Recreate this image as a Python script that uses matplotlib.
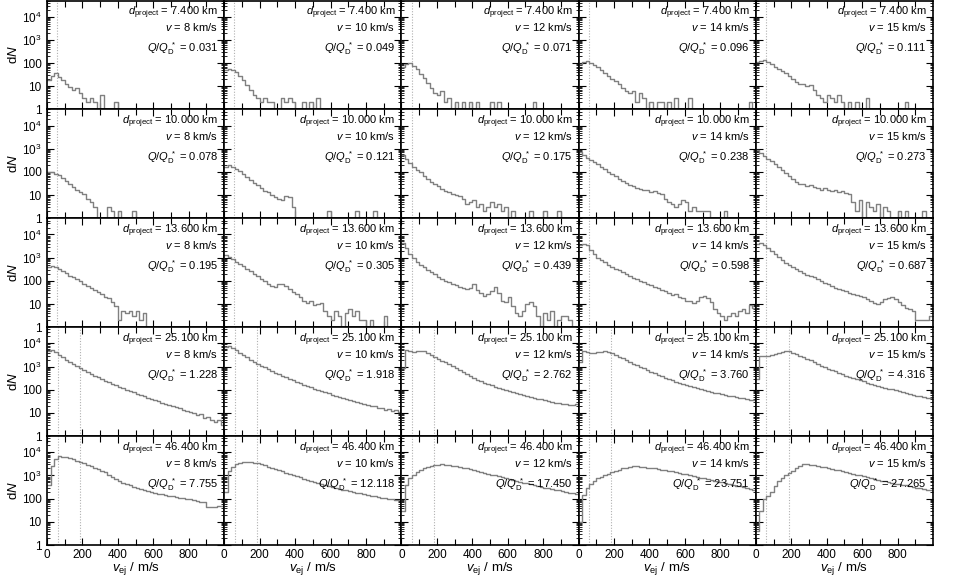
import numpy as np
import matplotlib
matplotlib.use('Agg')
import matplotlib.pyplot as plt
from matplotlib.ticker import FixedLocator, FixedFormatter, NullFormatter, LogLocator

plt.rcParams['font.family'] = ['Liberation Sans', 'DejaVu Sans']
plt.rcParams['mathtext.fontset'] = 'custom'
plt.rcParams['mathtext.rm'] = 'Liberation Sans'
plt.rcParams['mathtext.it'] = 'Liberation Sans:italic'
plt.rcParams['mathtext.bf'] = 'Liberation Sans:bold'

# ---------------- data ----------------
d_project = ['7.400', '10.000', '13.600', '25.100', '46.400']
v_impact = [8, 10, 12, 14, 15]
q_ratio_7400 = ['0.031', '0.049', '0.071', '0.096', '0.111']
q_ratio_10000 = ['0.078', '0.121', '0.175', '0.238', '0.273']
q_ratio_13600 = ['0.195', '0.305', '0.439', '0.598', '0.687']
q_ratio_25100 = ['1.228', '1.918', '2.762', '3.760', '4.316']
q_ratio_46400 = ['7.755', '12.118', '17.450', '23.751', '27.265']

bin_width = 20  # m/s
v_marks_rows = [[57], [57], [57], [60, 185], [60, 185]]

n_7400_v08 = [18,28,38,24,18,12,9,7,8,5, 3,2,3,2,0,4,0,0,0,2, 0,0,0,0,0,0,0,0,0,0, 0,0,0,0,0,0,0,0,0,0, 0,0,0,0,0,0,0,0,0,0]
n_7400_v10 = [50,57,52,40,28,18,11,7,4,3, 2,3,2,2,0,0,3,2,3,2, 0,0,2,0,2,0,3,0,0,0, 0,0,0,0,0,0,0,0,0,0, 0,0,0,0,0,0,0,0,0,0]
n_7400_v12 = [70,90,100,75,55,35,22,14,8,5, 4,6,2,3,0,2,0,2,0,2, 0,2,0,0,0,2,0,2,0,0, 0,0,0,0,0,0,0,2,0,0, 0,0,0,0,0,0,0,0,0,0]
n_7400_v14 = [90,110,120,100,80,65,50,38,28,20, 16,12,8,6,5,6,2,5,3,0, 2,0,2,2,0,2,0,3,0,0, 0,3,0,0,0,0,0,0,0,0, 0,0,0,0,0,0,0,0,2,0]
n_7400_v15 = [110,125,130,110,90,70,55,45,38,28, 20,15,13,12,10,11,7,4,3,2, 4,3,2,4,2,0,2,0,2,0, 0,3,0,0,0,0,0,0,0,0, 0,0,2,0,0,0,0,0,0,0]

n_10000_v08 = [95,100,85,72,55,40,30,22,17,13, 11,7,5,3,0,0,0,3,2,0, 2,0,0,0,2,0,0,0,0,0, 0,0,0,0,0,0,0,0,0,0, 0,0,0,0,0,0,0,0,0,0]
n_10000_v10 = [170,190,160,130,105,80,60,45,35,27, 20,15,13,10,8,7,6,9,8,3, 0,0,0,0,0,0,0,0,0,2, 0,0,0,0,0,0,0,2,0,0, 0,0,2,0,0,0,0,0,0,0]
n_10000_v12 = [550,380,250,170,120,95,70,50,38,30, 24,19,15,13,11,10,9,7,4,5, 6,3,4,2,3,5,3,4,2,3, 0,2,0,0,0,0,2,0,0,0, 2,0,0,0,2,0,0,0,0,0]
n_10000_v14 = [700,560,420,320,260,220,170,130,100,80, 65,52,42,35,28,24,20,18,16,17, 14,15,12,11,7,5,4,3,4,6, 5,2,3,2,2,2,2,0,0,0, 0,2,0,0,0,0,0,0,0,0]
n_10000_v15 = [900,650,480,370,290,230,170,120,90,70, 50,38,30,30,26,28,22,20,16,20, 17,15,17,14,15,12,11,5,2,6, 0,5,3,2,4,0,3,2,0,0, 2,0,2,0,0,0,0,2,0,0]

n_13600_v08 = [380,450,400,320,260,210,170,140,115,95, 75,60,48,40,32,26,20,18,12,8, 2,5,4,5,3,5,2,4,0,0, 0,0,0,0,0,0,0,0,0,0, 0,0,0,0,0,0,0,0,0,0]
n_13600_v10 = [1300,1100,850,650,520,420,330,260,200,160, 120,95,75,60,55,70,75,60,45,32, 28,20,14,11,13,9,10,11,5,3, 2,5,3,0,4,6,3,5,2,2, 0,2,0,0,0,3,0,0,0,0]
n_13600_v12 = [4200,2600,1500,950,680,500,390,300,240,190, 150,120,100,85,75,65,55,50,45,50, 75,40,30,22,28,35,55,30,14,12, 20,8,4,3,5,10,12,8,3,0, 4,2,5,0,2,3,3,2,0,0]
n_13600_v14 = [3500,4000,3600,2200,1400,1000,780,620,500,410, 340,280,230,190,160,135,115,98,85,72, 65,55,50,42,36,30,25,28,20,18, 14,13,11,14,20,22,18,12,6,4, 3,2,3,4,3,5,6,4,9,7]
n_13600_v15 = [3800,4200,3600,2600,1900,1450,1100,800,600,460, 380,310,260,220,180,160,140,120,100,80, 70,60,50,45,40,35,30,28,25,22, 20,17,14,11,10,12,16,18,20,17, 12,9,7,6,5,2,2,2,2,3]

n_25100_v08 = [4500,5000,4200,3300,2600,2000,1600,1300,1050,850, 700,580,480,400,340,290,250,210,180,155, 135,115,100,88,78,68,60,52,46,40, 36,32,28,25,22,20,18,16,14,12, 11,10,8,9,6,7,5,4,5,3]
n_25100_v10 = [7000,8000,6500,5000,3900,3100,2500,2000,1650,1350, 1100,920,770,650,550,470,400,340,295,255, 220,190,165,145,128,112,100,88,78,70, 62,55,50,45,40,36,33,30,27,25, 22,20,19,17,16,14,15,12,13,11]
n_25100_v12 = [900,5000,4500,4200,4500,4900,4600,3800,3200,2700, 2200,1800,1500,1250,1050,850,700,580,470,380, 320,270,230,200,175,155,138,122,110,100, 90,82,74,67,60,55,50,45,41,38, 35,32,30,28,26,25,24,23,21,24]
n_25100_v14 = [1500,4500,4200,4000,4000,4100,4300,4500,4200,3700, 3200,2700,2300,1900,1600,1350,1150,980,830,700, 600,510,440,380,330,290,255,225,200,178, 160,145,130,118,108,98,90,82,76,70, 64,60,55,52,48,45,42,40,37,35]
n_25100_v15 = [300,2800,3000,3000,3200,3500,3900,4300,4600,4500, 4000,3500,3000,2600,2200,1850,1550,1300,1100,950, 820,710,620,540,470,410,360,320,285,255, 228,205,185,167,150,136,124,113,103,94, 86,79,72,66,61,56,52,48,45,42]

n_46400_v08 = [400,2500,5000,7000,6500,6000,5500,5000,4400,3800, 3300,2900,2500,2200,1900,1600,1350,1100,900,700, 550,480,420,370,320,280,250,225,205,185, 175,165,155,140,130,125,118,112,105,98, 92,88,82,75,70,45,42,45,48,50]
n_46400_v10 = [200,1500,2400,3000,3400,3700,3900,3800,3600,3300, 3000,2700,2400,2150,1900,1700,1500,1330,1180,1050, 930,830,740,660,590,530,480,430,390,355, 325,295,270,248,228,210,195,180,168,156, 145,135,126,118,110,104,98,92,88,84]
n_46400_v12 = [30,400,800,1100,1400,1700,2000,2300,2600,2800, 2950,3000,2900,2750,2600,2450,2300,2150,2000,1850, 1700,1560,1430,1310,1200,1100,1000,920,840,770, 700,640,590,540,495,455,420,385,355,325, 300,280,260,240,225,210,195,182,170,160]
n_46400_v14 = [10,150,300,450,600,750,900,1050,1200,1400, 1600,1800,2000,2200,2400,2500,2450,2400,2300,2200, 2100,2000,1900,1800,1700,1600,1500,1400,1300,1200, 1110,1030,950,880,810,750,690,640,590,545, 500,465,430,395,365,335,310,285,262,240]
n_46400_v15 = [4,30,95,130,200,350,550,800,1000,1250, 1600,2000,2500,3200,3100,2900,2700,2550,2400,2250, 2100,1950,1800,1650,1500,1400,1300,1180,1080,1000, 920,850,780,710,650,600,555,515,480,450, 420,395,370,345,320,300,280,260,240,225]

rows_counts = [
    [n_7400_v08, n_7400_v10, n_7400_v12, n_7400_v14, n_7400_v15],
    [n_10000_v08, n_10000_v10, n_10000_v12, n_10000_v14, n_10000_v15],
    [n_13600_v08, n_13600_v10, n_13600_v12, n_13600_v14, n_13600_v15],
    [n_25100_v08, n_25100_v10, n_25100_v12, n_25100_v14, n_25100_v15],
    [n_46400_v08, n_46400_v10, n_46400_v12, n_46400_v14, n_46400_v15],
]
rows_q = [q_ratio_7400, q_ratio_10000, q_ratio_13600, q_ratio_25100, q_ratio_46400]

# ---------------- figure ----------------
W, H = 954, 580
fig = plt.figure(figsize=(W / 100, H / 100), dpi=100)
left, right, bottom, top = 47 / W, 933 / W, 35 / H, 1 - 0.5 / H
gs = fig.add_gridspec(5, 5, left=left, right=right, bottom=bottom, top=top,
                      hspace=0, wspace=0)

line_col = '#808080'
ytick_vals = [1, 10, 100, 1000, 10000]
ytick_labs = ['1', '10', '100', r'$10^3$', r'$10^4$']
fs_tick = 8.5
fs_note = 8.0
fs_lab = 9.5

for r in range(5):
    for c in range(5):
        ax = fig.add_subplot(gs[r, c])
        vals = np.asarray(rows_counts[r][c], dtype=float)
        edges = np.arange(len(vals) + 1) * bin_width
        xs = np.repeat(edges, 2)[1:-1]
        ys = np.repeat(vals, 2)
        ax.set_yscale('log', nonpositive='clip')
        for vm in v_marks_rows[r]:
            ax.axvline(vm, color='#b0b0b0', lw=0.8, ls=(0, (1, 1.5)), zorder=1)
        ax.plot(xs, ys, color=line_col, lw=1.0, zorder=2)
        ax.set_xlim(0, 1000)
        ax.set_ylim(1, 5e4)

        ax.xaxis.set_major_locator(FixedLocator([0, 200, 400, 600, 800]))
        ax.xaxis.set_minor_locator(FixedLocator([100, 300, 500, 700, 900]))
        ax.yaxis.set_major_locator(FixedLocator(ytick_vals))
        ax.yaxis.set_minor_locator(LogLocator(base=10, subs=np.arange(2, 10), numticks=20))
        ax.yaxis.set_minor_formatter(NullFormatter())
        if c == 0:
            ax.yaxis.set_major_formatter(FixedFormatter(ytick_labs))
        else:
            ax.yaxis.set_major_formatter(NullFormatter())
        if r == 4:
            ax.xaxis.set_major_formatter(FixedFormatter(['0', '200', '400', '600', '800']))
        else:
            ax.xaxis.set_major_formatter(NullFormatter())
        ax.tick_params(which='both', direction='in', top=True, right=True,
                       labelsize=fs_tick, colors='black')
        ax.tick_params(axis='y', pad=4)
        ax.tick_params(axis='x', pad=3)
        ax.tick_params(which='major', length=5, width=0.8)
        ax.tick_params(which='minor', length=2.5, width=0.6)
        ax.tick_params(axis='x', which='minor', length=4, width=0.8)
        for sp in ax.spines.values():
            sp.set_linewidth(1.2)
            sp.set_color('black')

        ax.text(0.965, 0.885, r'$d_{\rm project}$ = %s km' % d_project[r],
                transform=ax.transAxes, ha='right', va='center', fontsize=fs_note)
        ax.text(0.965, 0.755, r'$v$ = %d km/s' % v_impact[c],
                transform=ax.transAxes, ha='right', va='center', fontsize=fs_note)
        ax.text(0.965, 0.555, r'$Q$/$Q_{\rm D}^{\ *}$ = %s' % rows_q[r][c],
                transform=ax.transAxes, ha='right', va='center', fontsize=fs_note)

row_h = (top - bottom) / 5
for r in range(5):
    yc = top - (r + 0.5) * row_h
    fig.text(14 / W, yc, r'd$N$', rotation=90, ha='center', va='center', fontsize=fs_lab)
col_w = (right - left) / 5
for c in range(5):
    xc = left + (c + 0.5) * col_w
    fig.text(xc, 3 / H, r'$v_{\rm ej}$ / m/s', ha='center', va='bottom', fontsize=fs_lab)

fig.savefig('out.png', dpi=100)
